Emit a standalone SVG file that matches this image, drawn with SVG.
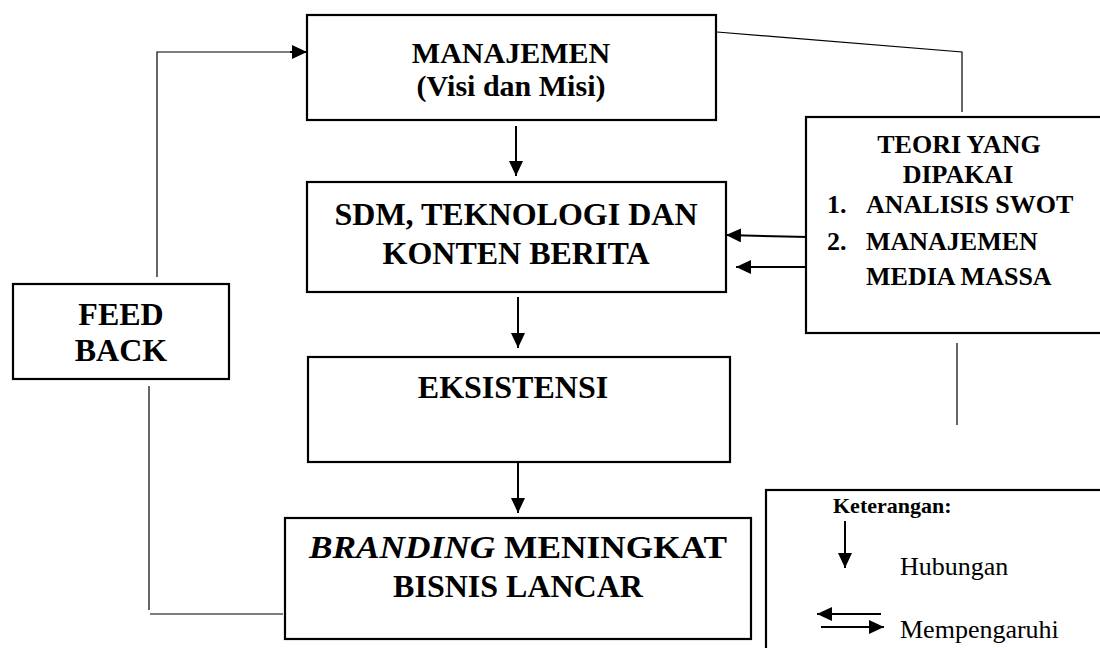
<svg xmlns="http://www.w3.org/2000/svg" width="1100" height="648" viewBox="0 0 1100 648">
<defs>
<style>
.box{fill:#fff;stroke:#000;stroke-width:2.2}
.thin{fill:none;stroke:#000;stroke-width:1.2}
.arr{fill:none;stroke:#000;stroke-width:2}
.t{font-family:"Liberation Serif","Times New Roman",serif;font-weight:bold;fill:#000;text-anchor:middle}
.big{font-size:32px}
.mid{font-size:26px}
.reg{font-family:"Liberation Serif","Times New Roman",serif;fill:#000;font-size:26px}
</style>
<marker id="ah" markerUnits="userSpaceOnUse" markerWidth="16" markerHeight="14" refX="15" refY="7" orient="auto">
<path d="M0,0 L15,7 L0,14 z" fill="#000"/>
</marker>
</defs>
<rect width="1100" height="648" fill="#fff"/>

<g id="connectors">
<polyline class="thin" points="157,277 157,52 292,52"/>
<line class="arr" x1="290" y1="52" x2="307" y2="52" marker-end="url(#ah)"/>
<polyline class="thin" points="149,386 149,610"/>
<line class="thin" x1="150" y1="614" x2="283" y2="614"/>
<polyline class="thin" points="717,32 962,52 962,112"/>
<line class="thin" x1="957" y1="343" x2="957" y2="425"/>
<line class="arr" x1="516" y1="126" x2="516" y2="176" marker-end="url(#ah)"/>
<line class="arr" x1="518" y1="297" x2="518" y2="348" marker-end="url(#ah)"/>
<line class="arr" x1="518" y1="463" x2="518" y2="513" marker-end="url(#ah)"/>
<line class="arr" x1="808" y1="237" x2="726" y2="235" marker-end="url(#ah)"/>
<line class="arr" x1="806" y1="267" x2="736" y2="267" marker-end="url(#ah)"/>
</g>

<g id="manajemen">
<rect class="box" x="307" y="15" width="409" height="105"/>
<text class="t" style="font-size:30px" x="511" y="63">MANAJEMEN</text>
<text class="t" style="font-size:30px" x="511" y="96">(Visi dan Misi)</text>
</g>

<g id="sdm">
<rect class="box" x="307" y="182" width="419" height="110"/>
<text class="t big" x="516" y="225">SDM, TEKNOLOGI DAN</text>
<text class="t big" x="516" y="264">KONTEN BERITA</text>
</g>

<g id="eksistensi">
<rect class="box" x="308" y="357" width="422" height="105"/>
<text class="t big" x="513" y="398">EKSISTENSI</text>
</g>

<g id="branding">
<rect class="box" x="285" y="518" width="466" height="121"/>
<text class="t big" x="518" y="558" textLength="418" lengthAdjust="spacingAndGlyphs"><tspan font-style="italic">BRANDING</tspan> MENINGKAT</text>
<text class="t big" x="518" y="597">BISNIS LANCAR</text>
</g>

<g id="feedback">
<rect class="box" x="13" y="284" width="216" height="95"/>
<text class="t big" x="121" y="325">FEED</text>
<text class="t big" x="121" y="361">BACK</text>
</g>

<g id="teori">
<rect class="box" x="806" y="117" width="300" height="216"/>
<text class="t mid" x="959" y="153">TEORI YANG</text>
<text class="t mid" x="958" y="183">DIPAKAI</text>
<text class="t mid" x="827" y="213" style="text-anchor:start">1.</text>
<text class="t mid" x="866" y="213" style="text-anchor:start">ANALISIS SWOT</text>
<text class="t mid" x="827" y="250" style="text-anchor:start">2.</text>
<text class="t mid" x="866" y="250" style="text-anchor:start">MANAJEMEN</text>
<text class="t mid" x="866" y="285" style="text-anchor:start">MEDIA MASSA</text>
</g>

<g id="keterangan">
<rect class="box" x="766" y="490" width="340" height="170"/>
<text class="t" x="833" y="513" style="text-anchor:start;font-size:22px">Keterangan:</text>
<line class="arr" x1="845" y1="521" x2="845" y2="568" marker-end="url(#ah)"/>
<text class="reg" x="900" y="575">Hubungan</text>
<line class="arr" x1="881" y1="614" x2="817" y2="614" marker-end="url(#ah)"/>
<line class="arr" x1="821" y1="627" x2="884" y2="627" marker-end="url(#ah)"/>
<text class="reg" x="900" y="638">Mempengaruhi</text>
</g>
</svg>
